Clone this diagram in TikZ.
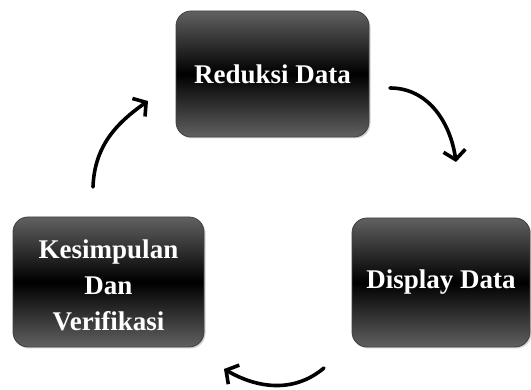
\documentclass[tikz,border=0pt]{standalone}
\usepackage{fontspec}
\setmainfont{Liberation Serif}
\usetikzlibrary{arrows.meta,shadows}
\tikzset{
  x=1pt,y=1pt,
  box/.style={rounded corners=15pt, draw=black!75, line width=0.8pt,
    top color=black!62, bottom color=black!62, middle color=black,
    text=white, font=\fontsize{27}{36}\selectfont\bfseries, align=center,
    drop shadow={opacity=0.35, shadow xshift=1.5pt, shadow yshift=-1.5pt}},
  cyc/.style={line width=3.6pt, line cap=round,
    -{Straight Barb[length=9pt,width=22pt,line width=3.6pt]}}
}
\begin{document}
\begin{tikzpicture}
\useasboundingbox (0,0) rectangle (531,390);
\node[box, minimum width=193pt, minimum height=126pt] (r) at (272.5,316) {Reduksi Data};
\node[box, minimum width=178pt, minimum height=129pt] (d) at (441,107.5) {Display Data};
\node[box, minimum width=191pt, minimum height=130pt] (k) at (108.5,108) {\rule{0pt}{25pt}Kesimpulan\\Dan\\Verifikasi};
\coordinate (a1s) at (93,203);
\coordinate (a1e) at (148,289);
\coordinate (a2s) at (390,302);
\coordinate (a2e) at (456,228);
\coordinate (a3s) at (324,22);
\coordinate (a3e) at (224,21);
\draw[cyc] (a1s) to[out=88, in=215] (a1e);
\draw[cyc] (a2s) to[out=0, in=98] (a2e);
\draw[cyc] (a3s) to[out=220, in=-30] (a3e);
\end{tikzpicture}
\end{document}
